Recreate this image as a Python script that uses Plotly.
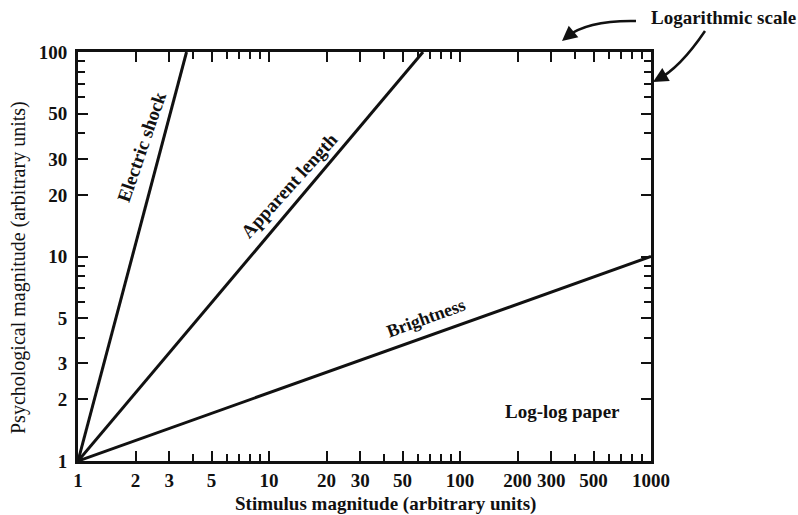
import plotly.graph_objects as go

# Power-law sensations on log-log axes: psychological magnitude vs stimulus magnitude
shock_x = [1, 3.7]
shock_y = [1, 100]
length_x = [1, 64]
length_y = [1, 100]
bright_x = [1, 1000]
bright_y = [1, 10]

x_ticks = [1, 2, 3, 5, 10, 20, 30, 50, 100, 200, 300, 500, 1000]
x_ticktext = ["1", "2", "3", "5", "10", "20", "30", "50", "100", "200", "300", "500", "1000"]
x_minor = [4, 6, 7, 8, 9, 40, 60, 70, 80, 90, 400, 600, 700, 800, 900]
y_ticks = [1, 2, 3, 5, 10, 20, 30, 50, 100]
y_ticktext = ["1", "2", "3", "5", "10", "20", "30", "50", "100"]
y_minor = [4, 6, 7, 8, 9, 40, 60, 70, 80, 90]

FONT = "Liberation Serif"
INK = "#111111"

fig = go.Figure()
for xs, ys in [(shock_x, shock_y), (length_x, length_y), (bright_x, bright_y)]:
    fig.add_trace(go.Scatter(x=xs, y=ys, mode="lines",
                             line=dict(color=INK, width=3), showlegend=False,
                             hoverinfo="skip"))

axis_common = dict(type="log", showgrid=False, zeroline=False, showline=True,
                   linecolor=INK, linewidth=3, ticks="inside", ticklen=10,
                   tickwidth=2, tickcolor=INK, mirror="allticks",
                   tickfont=dict(family=FONT, size=19, color=INK))

fig.update_xaxes(range=[0, 3], tickmode="array", tickvals=x_ticks,
                 ticktext=[f"<b>{t}</b>" for t in x_ticktext],
                 minor=dict(tickmode="array", tickvals=x_minor, ticks="inside",
                            ticklen=7, tickwidth=2, tickcolor=INK),
                 ticklabelstandoff=0, **axis_common)
fig.update_yaxes(range=[0, 2], tickmode="array", tickvals=y_ticks,
                 ticktext=[f"<b>{t}</b>" for t in y_ticktext],
                 minor=dict(tickmode="array", tickvals=y_minor, ticks="inside",
                            ticklen=7, tickwidth=2, tickcolor=INK),
                 ticklabelstandoff=4, **axis_common)

def px_to_paper(X, Y):
    return (X - 78) / 573, (461 - Y) / 409

annotations = []

def label(text, X, Y, size, angle=0):
    px, py = px_to_paper(X, Y)
    annotations.append(dict(x=px, y=py, xref="paper", yref="paper", text=text,
                            showarrow=False, textangle=angle,
                            font=dict(family=FONT, size=size, color=INK),
                            xanchor="center", yanchor="middle"))

label("<b>Electric shock</b>", 141, 147, 19, -71)
label("<b>Apparent length</b>", 289, 185, 19, -48)
label("<b>Brightness</b>", 426, 318, 18, -20)
label("<b>Log-log paper</b>", 562, 411, 19)
label("<b>Logarithmic scale</b>", 724, 17, 19)
label("<b>Stimulus magnitude (arbitrary units)</b>", 385, 504, 19)
label("Psychological magnitude (arbitrary units)", 18, 268, 20, -90)

# curved pointers from the "Logarithmic scale" note to the axes
shapes = []
def curve(p0, c, p1):
    a = px_to_paper(*p0)
    b = px_to_paper(*c)
    d = px_to_paper(*p1)
    shapes.append(dict(type="path", xref="paper", yref="paper",
                       path=f"M {a[0]},{a[1]} Q {b[0]},{b[1]} {d[0]},{d[1]}",
                       line=dict(color=INK, width=2.5)))

curve((636, 21), (588, 20), (566, 37))
curve((705, 31), (680, 68), (657, 80))

for tip, back in [((562, 41), (568, 36)), ((653, 82), (660, 78))]:
    tx, ty = px_to_paper(*tip)
    annotations.append(dict(x=tx, y=ty, xref="paper", yref="paper", text="",
                            showarrow=True, arrowhead=2, arrowsize=1.2,
                            arrowwidth=2.5, arrowcolor=INK,
                            ax=back[0] - tip[0], ay=back[1] - tip[1]))

fig.update_layout(width=798, height=515,
                  margin=dict(l=78, r=147, t=52, b=54),
                  paper_bgcolor="white", plot_bgcolor="white",
                  annotations=annotations, shapes=shapes,
                  font=dict(family=FONT, color=INK))

fig.write_html("out.html")
